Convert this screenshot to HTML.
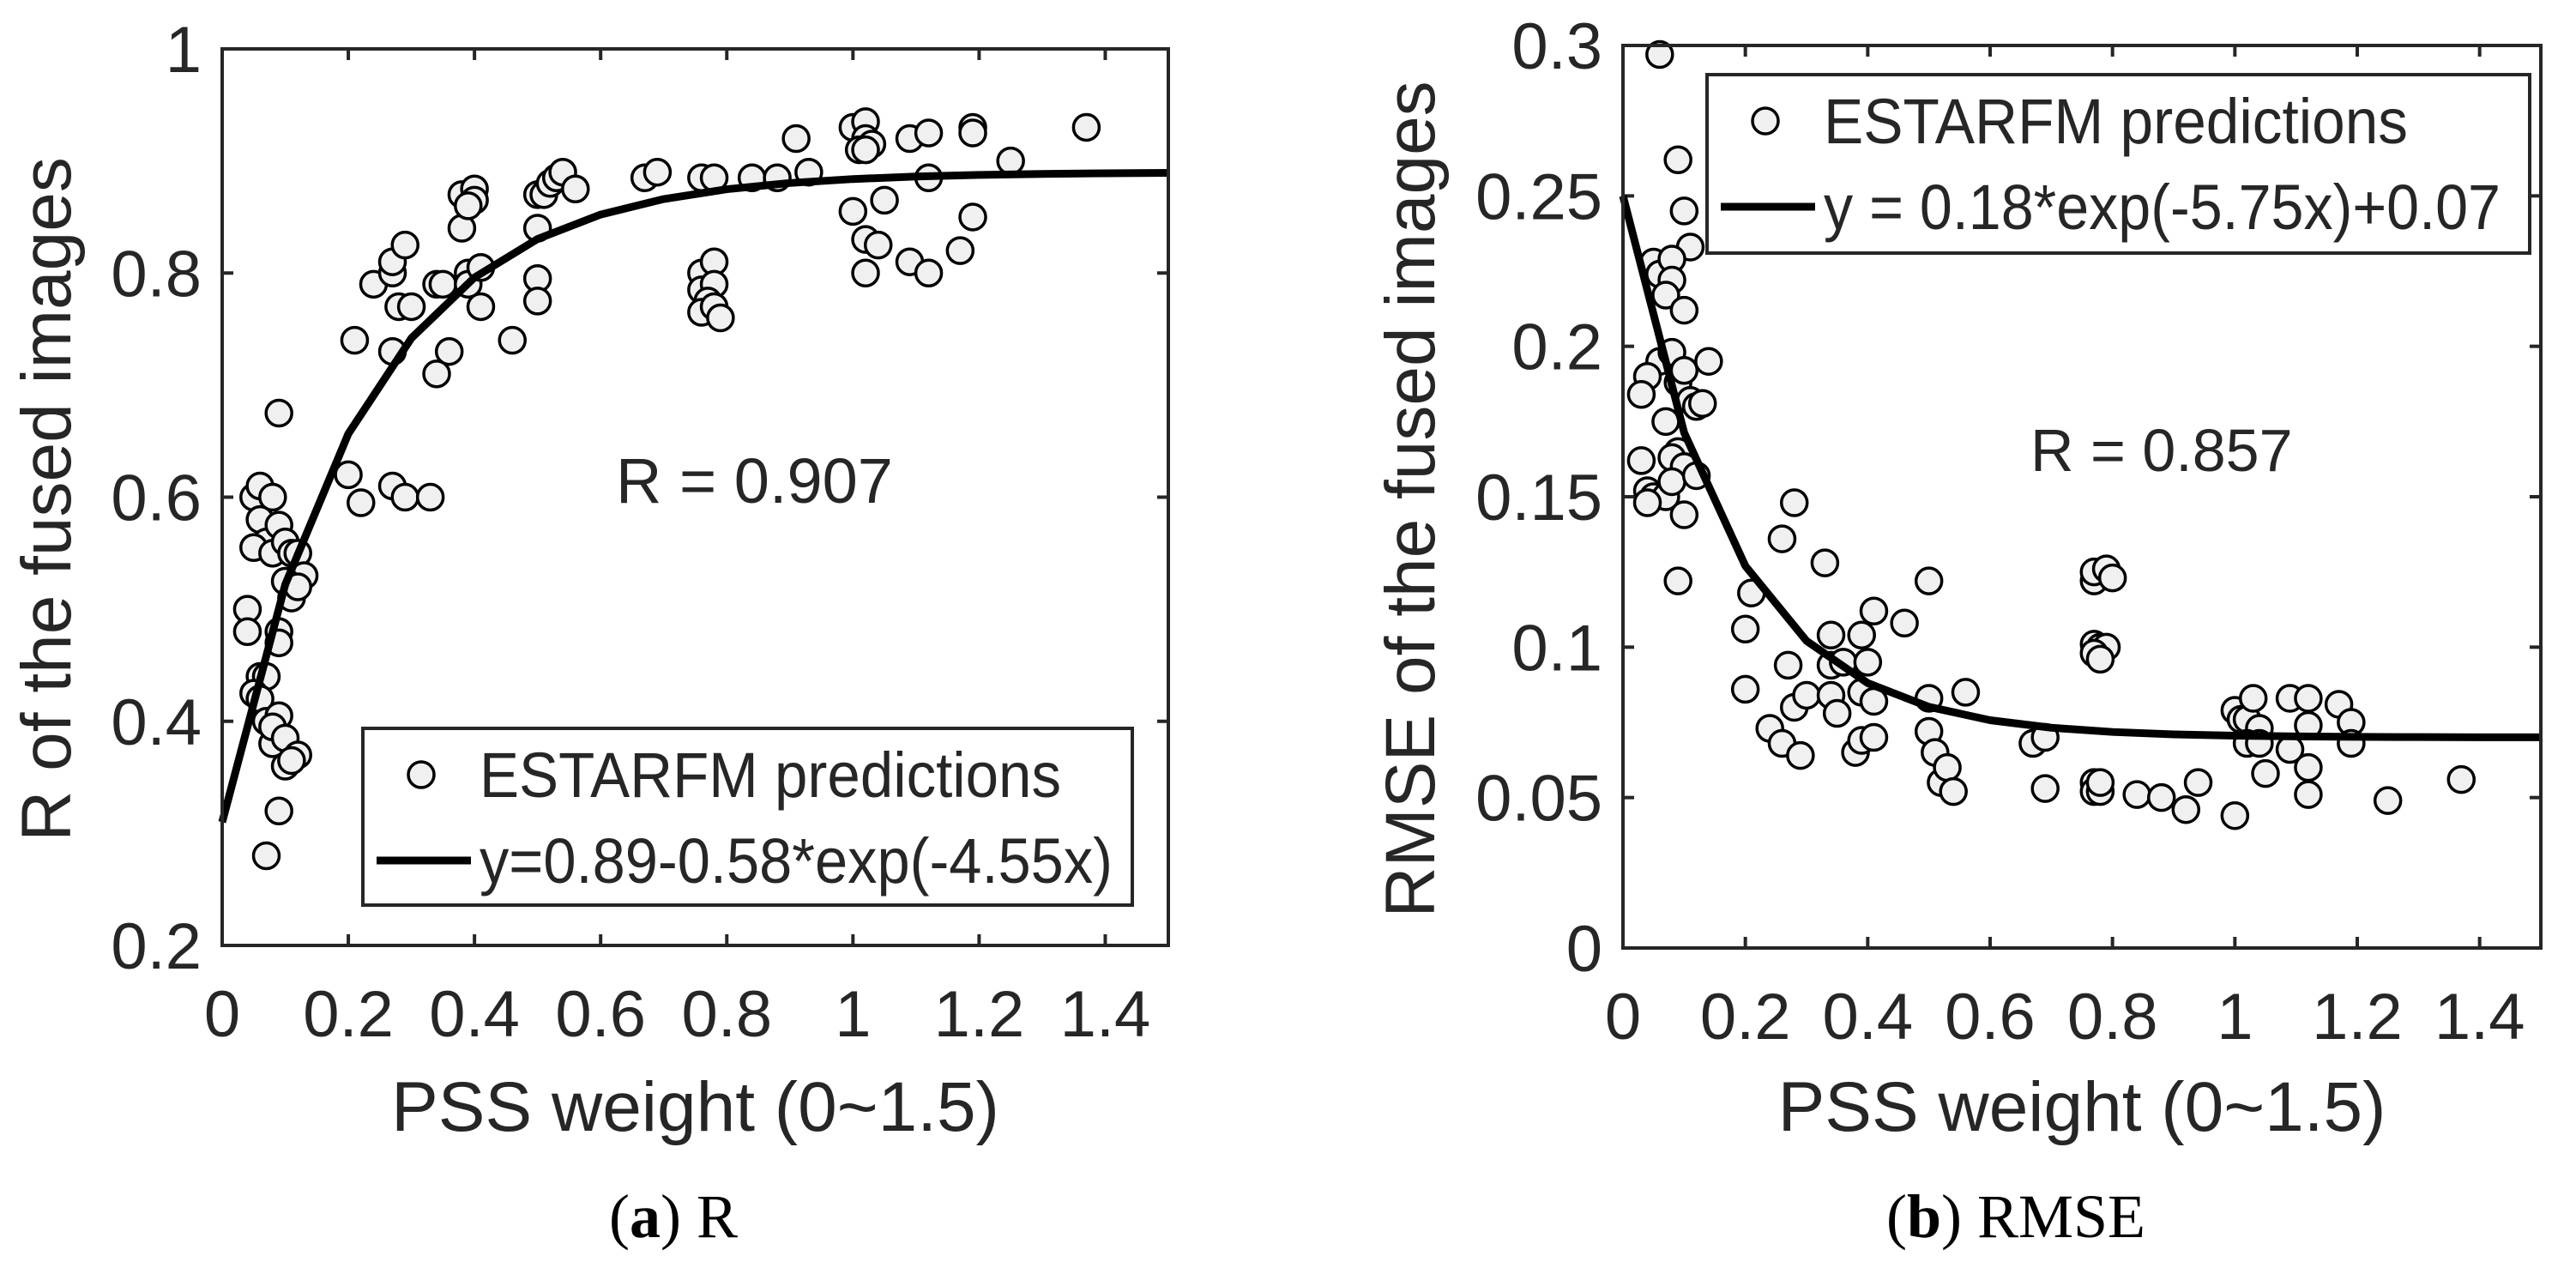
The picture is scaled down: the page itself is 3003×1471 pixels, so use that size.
<!DOCTYPE html>
<html><head><meta charset="utf-8"><style>
html,body{margin:0;padding:0;background:#fff;}
svg{display:block;}
text{font-family:"Liberation Sans",sans-serif;fill:#262626;}
.cap{font-family:"Liberation Serif",serif;fill:#000;}
</style></head><body>
<svg id="fig" width="3003" height="1471" viewBox="0 0 3003 1471" xmlns="http://www.w3.org/2000/svg"></svg>
<script>
// ---- Panel (a) data ----
const aX = [0.05,0.06,0.08,0.06,0.07,0.05,0.09,0.08,0.10,0.11,0.12,0.13,0.10,0.11,0.12,0.04,0.04,0.09,0.09,0.06,0.07,0.05,0.06,0.07,0.09,0.08,0.08,0.10,0.10,0.12,0.11,0.09,0.07,0.09,
0.20,0.22,0.27,0.29,0.33,0.21,0.24,0.27,0.27,0.29,0.28,0.30,0.27,0.34,0.34,0.35,0.36,0.38,0.39,0.39,0.41,0.41,0.38,0.40,0.40,0.39,0.46,0.50,0.51,0.52,0.53,0.54,0.56,0.50,0.50,0.50,
0.67,0.69,0.76,0.78,0.76,0.78,0.76,0.78,0.77,0.76,0.78,0.79,0.84,0.88,0.91,0.93,1.00,1.02,1.02,1.01,1.03,1.02,1.00,1.05,1.02,1.04,1.02,1.09,1.12,1.12,1.09,1.12,1.17,1.19,1.19,1.19,1.25,1.37];
const aY = [0.600,0.610,0.600,0.580,0.560,0.555,0.575,0.550,0.560,0.550,0.550,0.530,0.525,0.510,0.520,0.500,0.480,0.480,0.470,0.440,0.440,0.425,0.420,0.400,0.405,0.380,0.395,0.385,0.360,0.370,0.365,0.320,0.280,0.675,
0.620,0.595,0.610,0.600,0.600,0.740,0.790,0.800,0.810,0.825,0.770,0.770,0.730,0.710,0.790,0.790,0.730,0.840,0.800,0.790,0.805,0.770,0.870,0.875,0.865,0.860,0.740,0.870,0.870,0.880,0.885,0.890,0.875,0.840,0.795,0.775,
0.885,0.890,0.885,0.885,0.800,0.810,0.785,0.790,0.775,0.765,0.770,0.760,0.885,0.885,0.920,0.890,0.930,0.935,0.920,0.910,0.915,0.910,0.855,0.865,0.830,0.825,0.800,0.920,0.925,0.885,0.810,0.800,0.820,0.930,0.925,0.850,0.900,0.930];
const aFit = [0.89, 0.58, 4.55]; // y = a - b*exp(-c x)
const aYTicks = [0.2,0.4,0.6,0.8,1];
const aXTicks = [0,0.2,0.4,0.6,0.8,1,1.2,1.4];
// ---- Panel (b) data ----
const bX = [0.06,0.09,0.10,0.11,0.05,0.06,0.08,0.08,0.07,0.10,0.06,0.08,0.09,0.10,0.14,0.04,0.03,0.11,0.12,0.13,0.07,0.09,0.08,0.10,0.03,0.04,0.05,0.07,0.04,0.08,0.12,0.10,0.09,
0.20,0.21,0.20,0.24,0.26,0.28,0.27,0.28,0.26,0.29,0.30,0.33,0.34,0.34,0.36,0.34,0.35,0.38,0.39,0.39,0.40,0.39,0.41,0.41,0.41,0.46,0.50,0.50,0.50,0.51,0.52,0.53,0.54,0.56,
0.67,0.69,0.69,0.77,0.77,0.79,0.80,0.77,0.78,0.79,0.77,0.78,0.77,0.77,0.78,0.78,0.84,0.88,0.92,0.94,1.00,1.01,1.02,1.03,1.04,1.02,1.04,1.05,1.00,1.09,1.12,1.17,1.19,1.12,1.09,1.12,1.12,1.19,1.25,1.37];
const bY = [0.297,0.262,0.245,0.233,0.228,0.224,0.229,0.222,0.217,0.212,0.195,0.198,0.188,0.192,0.195,0.190,0.184,0.182,0.180,0.181,0.175,0.165,0.163,0.160,0.162,0.152,0.150,0.150,0.148,0.155,0.157,0.144,0.122,
0.106,0.118,0.086,0.073,0.136,0.148,0.094,0.080,0.068,0.064,0.084,0.128,0.104,0.094,0.095,0.084,0.078,0.065,0.069,0.104,0.095,0.085,0.082,0.070,0.112,0.108,0.122,0.083,0.072,0.065,0.055,0.060,0.052,0.085,
0.068,0.070,0.053,0.122,0.125,0.126,0.123,0.101,0.100,0.100,0.098,0.096,0.055,0.052,0.052,0.055,0.051,0.050,0.046,0.055,0.079,0.076,0.076,0.083,0.073,0.068,0.068,0.058,0.044,0.083,0.083,0.081,0.075,0.074,0.066,0.060,0.051,0.068,0.049,0.056];
const bFit = [0.18, 5.75, 0.07]; // y = a*exp(-b x)+c
const bYTicks = [0,0.05,0.1,0.15,0.2,0.25,0.3];
const bYTickLabels = ["0","0.05","0.1","0.15","0.2","0.25","0.3"];
const bXTicks = [0,0.2,0.4,0.6,0.8,1,1.2,1.4];
const fitXs = [0,0.1,0.2,0.3,0.4,0.5,0.6,0.7,0.8,0.9,1.0,1.1,1.2,1.3,1.4,1.5];

const NS="http://www.w3.org/2000/svg";
const svg=document.getElementById('fig');
function mk(tag,attrs,parent){const e=document.createElementNS(NS,tag);for(const k in attrs)e.setAttribute(k,attrs[k]);(parent||svg).appendChild(e);return e;}
function lbl(v){return String(v);}

function panel(o){
  const g=mk('g',{});
  
  
  const sx=v=>o.L+(v-o.x0)/(o.x1-o.x0)*(o.R-o.L);
  const sy=v=>o.B-(v-o.y0)/(o.y1-o.y0)*(o.B-o.T);
  o.xt.forEach(v=>{
    const x=sx(v);
    const t1=mk('line',{x1:x,x2:x,y1:o.B,y2:o.B-13,stroke:'#262626','stroke-width':4},g);
    
    
    const t2=mk('line',{x1:x,x2:x,y1:o.T,y2:o.T+13,stroke:'#262626','stroke-width':4},g);
    
    
    const tx=mk('text',{x:x,y:o.B+106,'font-size':76,'text-anchor':'middle'},g);
    tx.textContent=lbl(v);
    
    
  });
  o.yt.forEach((v,i)=>{
    const y=sy(v);
    const t1=mk('line',{x1:o.L,x2:o.L+13,y1:y,y2:y,stroke:'#262626','stroke-width':4},g);
    
    
    const t2=mk('line',{x1:o.R,x2:o.R-13,y1:y,y2:y,stroke:'#262626','stroke-width':4},g);
    
    
    const tx=mk('text',{x:o.L-24,y:y+27,'font-size':76,'text-anchor':'end'},g);
    tx.textContent=o.ytl?o.ytl[i]:lbl(v);
    
    
  });
  o.px.forEach((x,i)=>{
    const c=mk('circle',{cx:sx(x),cy:sy(o.py[i]),r:15,fill:'#f0f0f0',stroke:'#000','stroke-width':3.5},g);
    
    
  });
  const pts=fitXs.map(x=>sx(x)+','+sy(o.f(x))).join(' ');
  const pl=mk('polyline',{points:pts,fill:'none',stroke:'#000','stroke-width':9,'stroke-linejoin':'round'},g);
  
  
  const fr=mk('rect',{x:o.L,y:o.T,width:o.R-o.L,height:o.B-o.T,fill:'none',stroke:'#262626','stroke-width':4},g);
  
  
  const lg=mk('g',{},g);
  
  
  mk('rect',{x:o.lg[0],y:o.lg[1],width:o.lg[2],height:o.lg[3],fill:'#fff',stroke:'#262626','stroke-width':4},lg);
  const lc=mk('circle',{cx:o.lg[0]+68,cy:o.lg[1]+54,r:15,fill:'#f0f0f0',stroke:'#000','stroke-width':3.5},lg);
  
  
  const t1=mk('text',{x:o.lg[0]+136,y:o.lg[1]+80,'font-size':74,fill:'#000',textLength:o.tl[0],lengthAdjust:'spacingAndGlyphs'},lg);
  t1.textContent='ESTARFM predictions';
  
  
  const ll=mk('line',{x1:o.lg[0]+16,x2:o.lg[0]+126,y1:o.lg[1]+154,y2:o.lg[1]+154,stroke:'#000','stroke-width':9},lg);
  
  
  const t2=mk('text',{x:o.lg[0]+136,y:o.lg[1]+180,'font-size':74,fill:'#000',textLength:o.tl[1],lengthAdjust:'spacingAndGlyphs'},lg);
  t2.textContent=o.eq;
  
  
  const an=mk('text',{x:o.an[0],y:o.an[1],'font-size':o.an[2],fill:'#000'},g);
  an.textContent=o.anText;
  
  
  const xt=mk('text',{x:(o.L+o.R)/2,y:1318,'font-size':82,'text-anchor':'middle'},g);
  xt.textContent='PSS weight (0~1.5)';
  
  
  const yt=mk('text',{x:0,y:0,'font-size':82,'text-anchor':'middle',transform:'translate('+o.ytx+',582) rotate(-90)'},g);
  yt.textContent=o.ytitle;
  
  
  const cp=mk('text',{x:o.cap,y:1442,'font-size':72,'text-anchor':'middle',class:'cap'},g);
  cp.innerHTML='(<tspan font-weight="bold">'+o.capL+'</tspan>) '+o.capT;
  
  
}

panel({name:'panel-a-r',L:259,R:1362,T:57,B:1102,x0:0,x1:1.5,y0:0.2,y1:1,xt:aXTicks,yt:aYTicks,
  px:aX,py:aY,f:x=>aFit[0]-aFit[1]*Math.exp(-aFit[2]*x),
  lg:[423,849,897,206],tl:[678,738],eq:'y=0.89-0.58*exp(-4.55x)',an:[718,586,74],anText:'R = 0.907',
  ytx:82,ytitle:'R of the fused images',cap:785,capL:'a',capT:'R'});
panel({name:'panel-b-rmse',L:1892,R:2962,T:53,B:1105,x0:0,x1:1.5,y0:0,y1:0.3,xt:bXTicks,yt:bYTicks,ytl:bYTickLabels,
  px:bX,py:bY,f:x=>bFit[0]*Math.exp(-bFit[1]*x)+bFit[2],
  lg:[1990,87,959,208],tl:[681,789],eq:'y = 0.18*exp(-5.75x)+0.07',an:[2367,549,70],anText:'R = 0.857',
  ytx:1672,ytitle:'RMSE of the fused images',cap:2350,capL:'b',capT:'RMSE'});
</script>
</body></html>
